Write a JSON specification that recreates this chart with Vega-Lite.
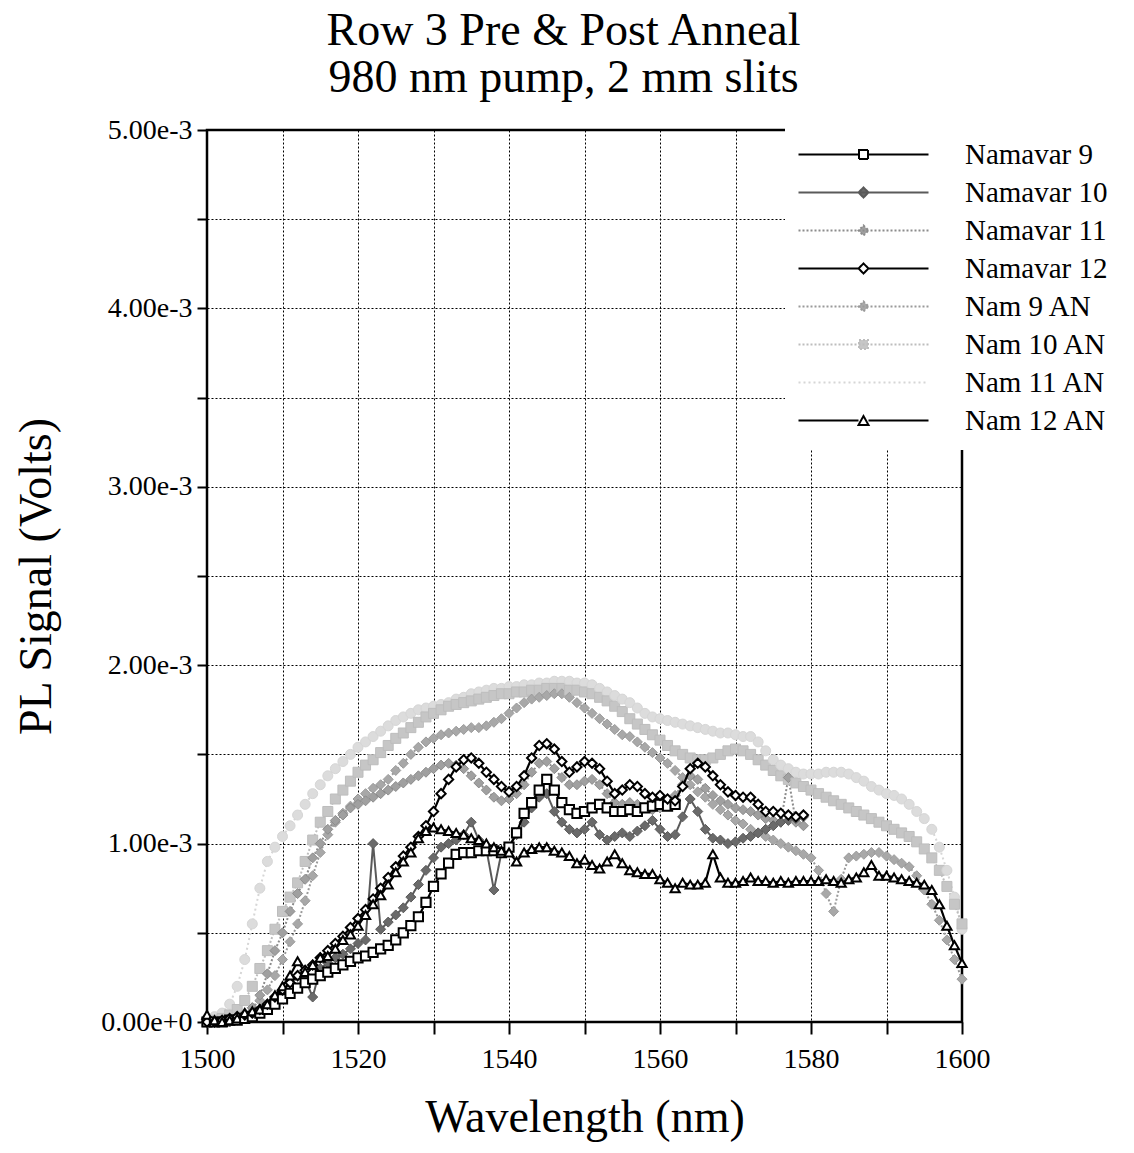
{
"$schema": "https://vega.github.io/schema/vega-lite/v6.json",
"width": 755, "height": 892,
"autosize": {"type": "none"},
"padding": {"left": 207, "top": 130, "right": 172, "bottom": 131},
"background": "white",
"config": {"view": {"stroke": "black", "strokeWidth": 2.5}, "font": "Liberation Serif"},
"title": {"text": ["Row 3 Pre & Post Anneal", "980 nm pump, 2 mm slits"], "font": "Liberation Serif", "fontSize": 46, "fontWeight": "normal", "color": "black", "lineHeight": 47, "anchor": "middle", "dx": -21, "offset": 14},
"data": {"values": [
{"w":1500,"Namavar 9":0,"Namavar 10":0,"Namavar 11":0,"Namavar 12":0,"Nam 9 AN":0,"Nam 10 AN":0,"Nam 11 AN":0.00002,"Nam 12 AN":0.00004},
{"w":1501,"Namavar 9":0,"Namavar 10":0,"Namavar 11":0,"Namavar 12":0,"Nam 9 AN":0,"Nam 10 AN":0.00001,"Nam 11 AN":0.00003,"Nam 12 AN":0.00001},
{"w":1502,"Namavar 9":0,"Namavar 10":0,"Namavar 11":0,"Namavar 12":0.00001,"Nam 9 AN":0.00001,"Nam 10 AN":0.00002,"Nam 11 AN":0.00005,"Nam 12 AN":0},
{"w":1503,"Namavar 9":0.00001,"Namavar 10":0,"Namavar 11":0.00001,"Namavar 12":0.00002,"Nam 9 AN":0.00002,"Nam 10 AN":0.00004,"Nam 11 AN":0.0001,"Nam 12 AN":0.00001},
{"w":1504,"Namavar 9":0.00001,"Namavar 10":0.00001,"Namavar 11":0.00002,"Namavar 12":0.00003,"Nam 9 AN":0.00003,"Nam 10 AN":0.00007,"Nam 11 AN":0.0002,"Nam 12 AN":0.00002},
{"w":1505,"Namavar 9":0.00002,"Namavar 10":0.00002,"Namavar 11":0.00004,"Namavar 12":0.00004,"Nam 9 AN":0.00005,"Nam 10 AN":0.00012,"Nam 11 AN":0.00035,"Nam 12 AN":0.00005},
{"w":1506,"Namavar 9":0.00003,"Namavar 10":0.00003,"Namavar 11":0.00008,"Namavar 12":0.00005,"Nam 9 AN":0.00008,"Nam 10 AN":0.0002,"Nam 11 AN":0.00055,"Nam 12 AN":0.00006},
{"w":1507,"Namavar 9":0.00005,"Namavar 10":0.00005,"Namavar 11":0.00015,"Namavar 12":0.00007,"Nam 9 AN":0.00012,"Nam 10 AN":0.0003,"Nam 11 AN":0.00075,"Nam 12 AN":0.00007},
{"w":1508,"Namavar 9":0.00007,"Namavar 10":0.00008,"Namavar 11":0.00027,"Namavar 12":0.0001,"Nam 9 AN":0.00018,"Nam 10 AN":0.0004,"Nam 11 AN":0.0009,"Nam 12 AN":0.0001},
{"w":1509,"Namavar 9":0.0001,"Namavar 10":0.00012,"Namavar 11":0.0004,"Namavar 12":0.00014,"Nam 9 AN":0.00026,"Nam 10 AN":0.00052,"Nam 11 AN":0.00098,"Nam 12 AN":0.00015},
{"w":1510,"Namavar 9":0.00013,"Namavar 10":0.00017,"Namavar 11":0.0005,"Namavar 12":0.00018,"Nam 9 AN":0.00035,"Nam 10 AN":0.00062,"Nam 11 AN":0.00104,"Nam 12 AN":0.0002},
{"w":1511,"Namavar 9":0.00016,"Namavar 10":0.00022,"Namavar 11":0.00062,"Namavar 12":0.00022,"Nam 9 AN":0.00045,"Nam 10 AN":0.0007,"Nam 11 AN":0.0011,"Nam 12 AN":0.00026},
{"w":1512,"Namavar 9":0.00019,"Namavar 10":0.00026,"Namavar 11":0.00072,"Namavar 12":0.00026,"Nam 9 AN":0.00055,"Nam 10 AN":0.00078,"Nam 11 AN":0.00116,"Nam 12 AN":0.00034},
{"w":1513,"Namavar 9":0.00022,"Namavar 10":0.00024,"Namavar 11":0.0008,"Namavar 12":0.00029,"Nam 9 AN":0.00068,"Nam 10 AN":0.0009,"Nam 11 AN":0.00122,"Nam 12 AN":0.00028},
{"w":1514,"Namavar 9":0.00024,"Namavar 10":0.00014,"Namavar 11":0.00092,"Namavar 12":0.00032,"Nam 9 AN":0.00082,"Nam 10 AN":0.00102,"Nam 11 AN":0.00128,"Nam 12 AN":0.00032},
{"w":1515,"Namavar 9":0.00026,"Namavar 10":0.0003,"Namavar 11":0.001,"Namavar 12":0.00036,"Nam 9 AN":0.00095,"Nam 10 AN":0.00112,"Nam 11 AN":0.00133,"Nam 12 AN":0.00036},
{"w":1516,"Namavar 9":0.00028,"Namavar 10":0.00033,"Namavar 11":0.00108,"Namavar 12":0.0004,"Nam 9 AN":0.00105,"Nam 10 AN":0.00118,"Nam 11 AN":0.00138,"Nam 12 AN":0.00037},
{"w":1517,"Namavar 9":0.0003,"Namavar 10":0.00036,"Namavar 11":0.00113,"Namavar 12":0.00044,"Nam 9 AN":0.00112,"Nam 10 AN":0.00125,"Nam 11 AN":0.00142,"Nam 12 AN":0.00041},
{"w":1518,"Namavar 9":0.00032,"Namavar 10":0.00038,"Namavar 11":0.00116,"Namavar 12":0.00048,"Nam 9 AN":0.00117,"Nam 10 AN":0.0013,"Nam 11 AN":0.00146,"Nam 12 AN":0.00046},
{"w":1519,"Namavar 9":0.00034,"Namavar 10":0.00041,"Namavar 11":0.0012,"Namavar 12":0.00053,"Nam 9 AN":0.00121,"Nam 10 AN":0.00135,"Nam 11 AN":0.0015,"Nam 12 AN":0.00049},
{"w":1520,"Namavar 9":0.00036,"Namavar 10":0.00044,"Namavar 11":0.00122,"Namavar 12":0.00058,"Nam 9 AN":0.00125,"Nam 10 AN":0.0014,"Nam 11 AN":0.00154,"Nam 12 AN":0.00054},
{"w":1521,"Namavar 9":0.00037,"Namavar 10":0.00046,"Namavar 11":0.00124,"Namavar 12":0.00063,"Nam 9 AN":0.00128,"Nam 10 AN":0.00144,"Nam 11 AN":0.00157,"Nam 12 AN":0.0006},
{"w":1522,"Namavar 9":0.00039,"Namavar 10":0.001,"Namavar 11":0.00126,"Namavar 12":0.00069,"Nam 9 AN":0.00131,"Nam 10 AN":0.00147,"Nam 11 AN":0.0016,"Nam 12 AN":0.00066},
{"w":1523,"Namavar 9":0.00041,"Namavar 10":0.00052,"Namavar 11":0.00128,"Namavar 12":0.00075,"Nam 9 AN":0.00133,"Nam 10 AN":0.00151,"Nam 11 AN":0.00163,"Nam 12 AN":0.00071},
{"w":1524,"Namavar 9":0.00043,"Namavar 10":0.00056,"Namavar 11":0.0013,"Namavar 12":0.00081,"Nam 9 AN":0.00136,"Nam 10 AN":0.00155,"Nam 11 AN":0.00166,"Nam 12 AN":0.00077},
{"w":1525,"Namavar 9":0.00046,"Namavar 10":0.0006,"Namavar 11":0.00132,"Namavar 12":0.00087,"Nam 9 AN":0.00141,"Nam 10 AN":0.00159,"Nam 11 AN":0.00169,"Nam 12 AN":0.00084},
{"w":1526,"Namavar 9":0.0005,"Namavar 10":0.00064,"Namavar 11":0.00134,"Namavar 12":0.00093,"Nam 9 AN":0.00145,"Nam 10 AN":0.00162,"Nam 11 AN":0.00171,"Nam 12 AN":0.0009},
{"w":1527,"Namavar 9":0.00054,"Namavar 10":0.0007,"Namavar 11":0.00136,"Namavar 12":0.00098,"Nam 9 AN":0.0015,"Nam 10 AN":0.00165,"Nam 11 AN":0.00173,"Nam 12 AN":0.00095},
{"w":1528,"Namavar 9":0.00059,"Namavar 10":0.00077,"Namavar 11":0.00138,"Namavar 12":0.00104,"Nam 9 AN":0.00154,"Nam 10 AN":0.00168,"Nam 11 AN":0.00175,"Nam 12 AN":0.00103},
{"w":1529,"Namavar 9":0.00067,"Namavar 10":0.00085,"Namavar 11":0.0014,"Namavar 12":0.0011,"Nam 9 AN":0.00157,"Nam 10 AN":0.00171,"Nam 11 AN":0.00176,"Nam 12 AN":0.00107},
{"w":1530,"Namavar 9":0.00076,"Namavar 10":0.00092,"Namavar 11":0.00142,"Namavar 12":0.00118,"Nam 9 AN":0.00159,"Nam 10 AN":0.00173,"Nam 11 AN":0.00177,"Nam 12 AN":0.00109},
{"w":1531,"Namavar 9":0.00083,"Namavar 10":0.00098,"Namavar 11":0.00144,"Namavar 12":0.00128,"Nam 9 AN":0.00161,"Nam 10 AN":0.00175,"Nam 11 AN":0.00178,"Nam 12 AN":0.00108},
{"w":1532,"Namavar 9":0.00089,"Namavar 10":0.001,"Namavar 11":0.00145,"Namavar 12":0.00136,"Nam 9 AN":0.00162,"Nam 10 AN":0.00177,"Nam 11 AN":0.00179,"Nam 12 AN":0.00107},
{"w":1533,"Namavar 9":0.00094,"Namavar 10":0.00102,"Namavar 11":0.00144,"Namavar 12":0.00143,"Nam 9 AN":0.00163,"Nam 10 AN":0.00178,"Nam 11 AN":0.00181,"Nam 12 AN":0.00106},
{"w":1534,"Namavar 9":0.00095,"Namavar 10":0.00105,"Namavar 11":0.00142,"Namavar 12":0.00147,"Nam 9 AN":0.00164,"Nam 10 AN":0.00179,"Nam 11 AN":0.00182,"Nam 12 AN":0.00105},
{"w":1535,"Namavar 9":0.00095,"Namavar 10":0.00112,"Namavar 11":0.00138,"Namavar 12":0.00148,"Nam 9 AN":0.00165,"Nam 10 AN":0.0018,"Nam 11 AN":0.00184,"Nam 12 AN":0.00103},
{"w":1536,"Namavar 9":0.00096,"Namavar 10":0.00102,"Namavar 11":0.00134,"Namavar 12":0.00145,"Nam 9 AN":0.00165,"Nam 10 AN":0.00181,"Nam 11 AN":0.00185,"Nam 12 AN":0.00102},
{"w":1537,"Namavar 9":0.00096,"Namavar 10":0.00097,"Namavar 11":0.0013,"Namavar 12":0.0014,"Nam 9 AN":0.00166,"Nam 10 AN":0.00182,"Nam 11 AN":0.00186,"Nam 12 AN":0.001},
{"w":1538,"Namavar 9":0.00096,"Namavar 10":0.00074,"Namavar 11":0.00126,"Namavar 12":0.00136,"Nam 9 AN":0.00168,"Nam 10 AN":0.00183,"Nam 11 AN":0.00187,"Nam 12 AN":0.00098},
{"w":1539,"Namavar 9":0.00095,"Namavar 10":0.00095,"Namavar 11":0.00124,"Namavar 12":0.00132,"Nam 9 AN":0.0017,"Nam 10 AN":0.00184,"Nam 11 AN":0.00187,"Nam 12 AN":0.00096},
{"w":1540,"Namavar 9":0.00098,"Namavar 10":0.00098,"Namavar 11":0.00125,"Namavar 12":0.00129,"Nam 9 AN":0.00173,"Nam 10 AN":0.00184,"Nam 11 AN":0.00188,"Nam 12 AN":0.00095},
{"w":1541,"Namavar 9":0.00106,"Namavar 10":0.00105,"Namavar 11":0.00128,"Namavar 12":0.00132,"Nam 9 AN":0.00176,"Nam 10 AN":0.00185,"Nam 11 AN":0.00188,"Nam 12 AN":0.0009},
{"w":1542,"Namavar 9":0.00117,"Namavar 10":0.00112,"Namavar 11":0.00133,"Namavar 12":0.00138,"Nam 9 AN":0.00179,"Nam 10 AN":0.00185,"Nam 11 AN":0.00189,"Nam 12 AN":0.00095},
{"w":1543,"Namavar 9":0.00123,"Namavar 10":0.0012,"Namavar 11":0.0014,"Namavar 12":0.00148,"Nam 9 AN":0.00181,"Nam 10 AN":0.00186,"Nam 11 AN":0.00189,"Nam 12 AN":0.00097},
{"w":1544,"Namavar 9":0.0013,"Namavar 10":0.00126,"Namavar 11":0.00145,"Namavar 12":0.00155,"Nam 9 AN":0.00182,"Nam 10 AN":0.00186,"Nam 11 AN":0.0019,"Nam 12 AN":0.00098},
{"w":1545,"Namavar 9":0.00136,"Namavar 10":0.00128,"Namavar 11":0.00146,"Namavar 12":0.00156,"Nam 9 AN":0.00183,"Nam 10 AN":0.00187,"Nam 11 AN":0.0019,"Nam 12 AN":0.00098},
{"w":1546,"Namavar 9":0.0013,"Namavar 10":0.00118,"Namavar 11":0.00142,"Namavar 12":0.00153,"Nam 9 AN":0.00184,"Nam 10 AN":0.00187,"Nam 11 AN":0.00191,"Nam 12 AN":0.00096},
{"w":1547,"Namavar 9":0.00123,"Namavar 10":0.00112,"Namavar 11":0.00137,"Namavar 12":0.00146,"Nam 9 AN":0.00184,"Nam 10 AN":0.00187,"Nam 11 AN":0.00191,"Nam 12 AN":0.00095},
{"w":1548,"Namavar 9":0.00119,"Namavar 10":0.00108,"Namavar 11":0.00133,"Namavar 12":0.0014,"Nam 9 AN":0.00182,"Nam 10 AN":0.00186,"Nam 11 AN":0.00191,"Nam 12 AN":0.00093},
{"w":1549,"Namavar 9":0.00117,"Namavar 10":0.00106,"Namavar 11":0.00133,"Namavar 12":0.00143,"Nam 9 AN":0.00179,"Nam 10 AN":0.00186,"Nam 11 AN":0.0019,"Nam 12 AN":0.00089},
{"w":1550,"Namavar 9":0.00118,"Namavar 10":0.00108,"Namavar 11":0.00135,"Namavar 12":0.00146,"Nam 9 AN":0.00176,"Nam 10 AN":0.00185,"Nam 11 AN":0.0019,"Nam 12 AN":0.00091},
{"w":1551,"Namavar 9":0.0012,"Namavar 10":0.00112,"Namavar 11":0.00136,"Namavar 12":0.00145,"Nam 9 AN":0.00173,"Nam 10 AN":0.00184,"Nam 11 AN":0.00189,"Nam 12 AN":0.00088},
{"w":1552,"Namavar 9":0.00122,"Namavar 10":0.00105,"Namavar 11":0.00133,"Namavar 12":0.00142,"Nam 9 AN":0.0017,"Nam 10 AN":0.00182,"Nam 11 AN":0.00187,"Nam 12 AN":0.00086},
{"w":1553,"Namavar 9":0.0012,"Namavar 10":0.00102,"Namavar 11":0.00128,"Namavar 12":0.00135,"Nam 9 AN":0.00167,"Nam 10 AN":0.0018,"Nam 11 AN":0.00185,"Nam 12 AN":0.0009},
{"w":1554,"Namavar 9":0.00118,"Namavar 10":0.00104,"Namavar 11":0.00123,"Namavar 12":0.00128,"Nam 9 AN":0.00164,"Nam 10 AN":0.00177,"Nam 11 AN":0.00183,"Nam 12 AN":0.00094},
{"w":1555,"Namavar 9":0.00118,"Namavar 10":0.00106,"Namavar 11":0.00122,"Namavar 12":0.0013,"Nam 9 AN":0.00161,"Nam 10 AN":0.00174,"Nam 11 AN":0.00181,"Nam 12 AN":0.00089},
{"w":1556,"Namavar 9":0.00119,"Namavar 10":0.00104,"Namavar 11":0.00123,"Namavar 12":0.00133,"Nam 9 AN":0.0016,"Nam 10 AN":0.0017,"Nam 11 AN":0.00179,"Nam 12 AN":0.00085},
{"w":1557,"Namavar 9":0.00118,"Namavar 10":0.00107,"Namavar 11":0.00122,"Namavar 12":0.00132,"Nam 9 AN":0.00157,"Nam 10 AN":0.00167,"Nam 11 AN":0.00176,"Nam 12 AN":0.00084},
{"w":1558,"Namavar 9":0.0012,"Namavar 10":0.0011,"Namavar 11":0.0012,"Namavar 12":0.00128,"Nam 9 AN":0.00154,"Nam 10 AN":0.00164,"Nam 11 AN":0.00173,"Nam 12 AN":0.00083},
{"w":1559,"Namavar 9":0.00121,"Namavar 10":0.00113,"Namavar 11":0.00119,"Namavar 12":0.00126,"Nam 9 AN":0.00151,"Nam 10 AN":0.00161,"Nam 11 AN":0.00171,"Nam 12 AN":0.00083},
{"w":1560,"Namavar 9":0.00122,"Namavar 10":0.00108,"Namavar 11":0.0012,"Namavar 12":0.00127,"Nam 9 AN":0.00148,"Nam 10 AN":0.00158,"Nam 11 AN":0.0017,"Nam 12 AN":0.0008},
{"w":1561,"Namavar 9":0.00121,"Namavar 10":0.00104,"Namavar 11":0.00122,"Namavar 12":0.00125,"Nam 9 AN":0.00145,"Nam 10 AN":0.00155,"Nam 11 AN":0.00169,"Nam 12 AN":0.00078},
{"w":1562,"Namavar 9":0.00122,"Namavar 10":0.00105,"Namavar 11":0.00127,"Namavar 12":0.00124,"Nam 9 AN":0.00141,"Nam 10 AN":0.00152,"Nam 11 AN":0.00168,"Nam 12 AN":0.00075},
{"w":1563,"Namavar 10":0.00115,"Namavar 11":0.00133,"Namavar 12":0.00132,"Nam 9 AN":0.00137,"Nam 10 AN":0.0015,"Nam 11 AN":0.00167,"Nam 12 AN":0.00078},
{"w":1564,"Namavar 10":0.00125,"Namavar 11":0.00138,"Namavar 12":0.00142,"Nam 9 AN":0.00133,"Nam 10 AN":0.00148,"Nam 11 AN":0.00166,"Nam 12 AN":0.00077},
{"w":1565,"Namavar 10":0.00118,"Namavar 11":0.00136,"Namavar 12":0.00145,"Nam 9 AN":0.00129,"Nam 10 AN":0.00147,"Nam 11 AN":0.00165,"Nam 12 AN":0.00077},
{"w":1566,"Namavar 10":0.00108,"Namavar 11":0.00131,"Namavar 12":0.00143,"Nam 9 AN":0.00126,"Nam 10 AN":0.00147,"Nam 11 AN":0.00164,"Nam 12 AN":0.00078},
{"w":1567,"Namavar 10":0.00103,"Namavar 11":0.00127,"Namavar 12":0.00138,"Nam 9 AN":0.00122,"Nam 10 AN":0.00148,"Nam 11 AN":0.00163,"Nam 12 AN":0.00094},
{"w":1568,"Namavar 10":0.00102,"Namavar 11":0.00124,"Namavar 12":0.00133,"Nam 9 AN":0.00119,"Nam 10 AN":0.0015,"Nam 11 AN":0.00162,"Nam 12 AN":0.00081},
{"w":1569,"Namavar 10":0.001,"Namavar 11":0.00122,"Namavar 12":0.00129,"Nam 9 AN":0.00116,"Nam 10 AN":0.00152,"Nam 11 AN":0.00162,"Nam 12 AN":0.00078},
{"w":1570,"Namavar 10":0.00101,"Namavar 11":0.0012,"Namavar 12":0.00127,"Nam 9 AN":0.00113,"Nam 10 AN":0.00153,"Nam 11 AN":0.00161,"Nam 12 AN":0.00078},
{"w":1571,"Namavar 10":0.00103,"Namavar 11":0.00119,"Namavar 12":0.00126,"Nam 9 AN":0.00111,"Nam 10 AN":0.00152,"Nam 11 AN":0.0016,"Nam 12 AN":0.00079},
{"w":1572,"Namavar 10":0.00104,"Namavar 11":0.00118,"Namavar 12":0.00126,"Nam 9 AN":0.00108,"Nam 10 AN":0.0015,"Nam 11 AN":0.0016,"Nam 12 AN":0.00081},
{"w":1573,"Namavar 10":0.00106,"Namavar 11":0.00116,"Namavar 12":0.00122,"Nam 9 AN":0.00106,"Nam 10 AN":0.00147,"Nam 11 AN":0.00157,"Nam 12 AN":0.00079},
{"w":1574,"Namavar 10":0.00108,"Namavar 11":0.00114,"Namavar 12":0.00118,"Nam 9 AN":0.00104,"Nam 10 AN":0.00144,"Nam 11 AN":0.00152,"Nam 12 AN":0.00079},
{"w":1575,"Namavar 10":0.0011,"Namavar 11":0.00113,"Namavar 12":0.00118,"Nam 9 AN":0.00102,"Nam 10 AN":0.00141,"Nam 11 AN":0.00147,"Nam 12 AN":0.00078},
{"w":1576,"Namavar 10":0.00112,"Namavar 11":0.00112,"Namavar 12":0.00117,"Nam 9 AN":0.001,"Nam 10 AN":0.00138,"Nam 11 AN":0.00144,"Nam 12 AN":0.00079},
{"w":1577,"Namavar 10":0.00113,"Namavar 11":0.00137,"Namavar 12":0.00116,"Nam 9 AN":0.00098,"Nam 10 AN":0.00136,"Nam 11 AN":0.00142,"Nam 12 AN":0.00078},
{"w":1578,"Namavar 10":0.00114,"Namavar 11":0.00112,"Namavar 12":0.00115,"Nam 9 AN":0.00096,"Nam 10 AN":0.00134,"Nam 11 AN":0.0014,"Nam 12 AN":0.00079},
{"w":1579,"Namavar 10":0.00115,"Namavar 11":0.0011,"Namavar 12":0.00116,"Nam 9 AN":0.00094,"Nam 10 AN":0.00132,"Nam 11 AN":0.00139,"Nam 12 AN":0.00079},
{"w":1580,"Nam 9 AN":0.00092,"Nam 10 AN":0.0013,"Nam 11 AN":0.00139,"Nam 12 AN":0.00079},
{"w":1581,"Nam 9 AN":0.00085,"Nam 10 AN":0.00128,"Nam 11 AN":0.00139,"Nam 12 AN":0.00079},
{"w":1582,"Nam 9 AN":0.00072,"Nam 10 AN":0.00126,"Nam 11 AN":0.0014,"Nam 12 AN":0.0008},
{"w":1583,"Nam 9 AN":0.00062,"Nam 10 AN":0.00124,"Nam 11 AN":0.0014,"Nam 12 AN":0.00079},
{"w":1584,"Nam 9 AN":0.0008,"Nam 10 AN":0.00122,"Nam 11 AN":0.0014,"Nam 12 AN":0.00078},
{"w":1585,"Nam 9 AN":0.00092,"Nam 10 AN":0.0012,"Nam 11 AN":0.00139,"Nam 12 AN":0.0008},
{"w":1586,"Nam 9 AN":0.00093,"Nam 10 AN":0.00118,"Nam 11 AN":0.00137,"Nam 12 AN":0.00081},
{"w":1587,"Nam 9 AN":0.00094,"Nam 10 AN":0.00116,"Nam 11 AN":0.00135,"Nam 12 AN":0.00084},
{"w":1588,"Nam 9 AN":0.00095,"Nam 10 AN":0.00114,"Nam 11 AN":0.00132,"Nam 12 AN":0.00088},
{"w":1589,"Nam 9 AN":0.00095,"Nam 10 AN":0.00112,"Nam 11 AN":0.0013,"Nam 12 AN":0.00082},
{"w":1590,"Nam 9 AN":0.00093,"Nam 10 AN":0.0011,"Nam 11 AN":0.00128,"Nam 12 AN":0.00082},
{"w":1591,"Nam 9 AN":0.00091,"Nam 10 AN":0.00108,"Nam 11 AN":0.00127,"Nam 12 AN":0.00081},
{"w":1592,"Nam 9 AN":0.00089,"Nam 10 AN":0.00106,"Nam 11 AN":0.00125,"Nam 12 AN":0.0008},
{"w":1593,"Nam 9 AN":0.00087,"Nam 10 AN":0.00104,"Nam 11 AN":0.00122,"Nam 12 AN":0.00079},
{"w":1594,"Nam 9 AN":0.00082,"Nam 10 AN":0.00101,"Nam 11 AN":0.00118,"Nam 12 AN":0.00078},
{"w":1595,"Nam 9 AN":0.00074,"Nam 10 AN":0.00097,"Nam 11 AN":0.00114,"Nam 12 AN":0.00077},
{"w":1596,"Nam 9 AN":0.00066,"Nam 10 AN":0.00092,"Nam 11 AN":0.00108,"Nam 12 AN":0.00074},
{"w":1597,"Nam 9 AN":0.00057,"Nam 10 AN":0.00085,"Nam 11 AN":0.00098,"Nam 12 AN":0.00066},
{"w":1598,"Nam 9 AN":0.00046,"Nam 10 AN":0.00076,"Nam 11 AN":0.00085,"Nam 12 AN":0.00054},
{"w":1599,"Nam 9 AN":0.00035,"Nam 10 AN":0.00066,"Nam 11 AN":0.0007,"Nam 12 AN":0.00043},
{"w":1600,"Nam 9 AN":0.00024,"Nam 10 AN":0.00055,"Nam 11 AN":0.00052,"Nam 12 AN":0.00033}
]},
"transform": [
{"fold": ["Nam 11 AN","Nam 10 AN","Nam 9 AN","Namavar 11","Namavar 10","Namavar 9","Namavar 12","Nam 12 AN"], "as": ["series","v"]},
{"filter": "isValid(datum.v)"}
],
"encoding": {
"x": {"field": "w", "type": "quantitative", "scale": {"domain": [1500,1600], "nice": false, "zero": false},
 "axis": {"values": [1500,1510,1520,1530,1540,1550,1560,1570,1580,1590,1600], "format": "d", "labelExpr": "datum.value % 20 == 0 ? datum.label : ''",
  "grid": true, "gridColor": "black", "gridDash": [2,2], "gridWidth": 1, "gridOpacity": 1, "domain": false,
  "ticks": true, "tickColor": "black", "tickSize": 12, "tickWidth": 2, "labelFlush": false, "labelOverlap": false,
  "labelFont": "Liberation Serif", "labelFontSize": 28, "labelColor": "black", "labelPadding": 11,
  "title": "Wavelength (nm)", "titleFont": "Liberation Serif", "titleFontSize": 46, "titleFontWeight": "normal", "titleColor": "black", "titlePadding": 22}},
"y": {"field": "v", "type": "quantitative", "scale": {"domain": [0,0.005], "nice": false},
 "axis": {"values": [0,0.0005,0.001,0.0015,0.002,0.0025,0.003,0.0035,0.004,0.0045,0.005], "labelExpr": "round(datum.value*2000) % 2 == 0 ? format(datum.value, '.2e') : ''",
  "grid": true, "gridColor": "black", "gridDash": [2,2], "gridWidth": 1, "gridOpacity": 1, "domain": false,
  "ticks": true, "tickColor": "black", "tickSize": 10, "tickWidth": 2, "labelFlush": false, "labelOverlap": false,
  "labelFont": "Liberation Serif", "labelFontSize": 28, "labelColor": "black", "labelPadding": 5,
  "title": "PL Signal (Volts)", "titleFont": "Liberation Serif", "titleFontSize": 46, "titleFontWeight": "normal", "titleColor": "black", "titlePadding": 40}}
},
"resolve": {"scale": {"shape": "independent", "fill": "independent", "stroke": "independent", "strokeDash": "independent"}},
"layer": [
{"transform": [{"filter": {"field": "series", "oneOf": ["Nam 11 AN","Nam 10 AN","Nam 9 AN","Namavar 11","Namavar 10"]}}],
 "mark": {"type": "line", "strokeWidth": 2},
 "encoding": {
  "color": {"field": "series", "type": "nominal", "legend": null,
   "scale": {"domain": ["Namavar 9","Namavar 10","Namavar 11","Namavar 12","Nam 9 AN","Nam 10 AN","Nam 11 AN","Nam 12 AN"], "range": ["#000000","#5a5a5a","#8c8c8c","#000000","#9a9a9a","#bdbdbd","#d6d6d6","#000000"]}},
  "strokeDash": {"field": "series", "type": "nominal", "legend": null,
   "scale": {"domain": ["Namavar 9","Namavar 10","Namavar 11","Namavar 12","Nam 9 AN","Nam 10 AN","Nam 11 AN","Nam 12 AN"], "range": [[1,0],[1,0],[2,2],[1,0],[2,2],[2,2],[2,3],[1,0]]}}
 }},
{"transform": [{"filter": {"field": "series", "oneOf": ["Nam 11 AN","Nam 10 AN","Nam 9 AN","Namavar 11","Namavar 10"]}}],
 "mark": {"type": "point", "size": 100, "strokeWidth": 1, "opacity": 1},
 "encoding": {
  "shape": {"field": "series", "type": "nominal", "legend": null,
   "scale": {"domain": ["Namavar 9","Namavar 10","Namavar 11","Namavar 12","Nam 9 AN","Nam 10 AN","Nam 11 AN","Nam 12 AN"], "range": ["square","diamond","diamond","diamond","diamond","square","circle","triangle-up"]}},
  "fill": {"field": "series", "type": "nominal", "legend": null,
   "scale": {"domain": ["Namavar 9","Namavar 10","Namavar 11","Namavar 12","Nam 9 AN","Nam 10 AN","Nam 11 AN","Nam 12 AN"], "range": ["white","#6a6a6a","#a0a0a0","white","#a8a8a8","#c6c6c6","#dcdcdc","white"]}},
  "stroke": {"field": "series", "type": "nominal", "legend": null,
   "scale": {"domain": ["Namavar 9","Namavar 10","Namavar 11","Namavar 12","Nam 9 AN","Nam 10 AN","Nam 11 AN","Nam 12 AN"], "range": ["#000000","#5a5a5a","#8c8c8c","#000000","#9a9a9a","#bdbdbd","#d6d6d6","#000000"]}}
 }},
{"transform": [{"filter": {"field": "series", "oneOf": ["Namavar 9","Namavar 12","Nam 12 AN"]}}],
 "mark": {"type": "line", "strokeWidth": 2.2},
 "encoding": {
  "color": {"field": "series", "type": "nominal", "legend": null},
  "strokeDash": {"field": "series", "type": "nominal", "legend": null,
   "scale": {"domain": ["Namavar 9","Namavar 10","Namavar 11","Namavar 12","Nam 9 AN","Nam 10 AN","Nam 11 AN","Nam 12 AN"], "range": [[1,0],[1,0],[2,2],[1,0],[2,2],[2,2],[2,3],[1,0]]}}
 }},
{"transform": [{"filter": {"field": "series", "oneOf": ["Namavar 9","Namavar 12","Nam 12 AN"]}}],
 "mark": {"type": "point", "size": 85, "strokeWidth": 2, "opacity": 1},
 "encoding": {
  "shape": {"field": "series", "type": "nominal", "legend": null,
   "scale": {"domain": ["Namavar 9","Namavar 10","Namavar 11","Namavar 12","Nam 9 AN","Nam 10 AN","Nam 11 AN","Nam 12 AN"], "range": ["square","diamond","diamond","diamond","diamond","square","circle","triangle-up"]}},
  "fill": {"field": "series", "type": "nominal", "legend": null,
   "scale": {"domain": ["Namavar 9","Namavar 10","Namavar 11","Namavar 12","Nam 9 AN","Nam 10 AN","Nam 11 AN","Nam 12 AN"], "range": ["white","#6a6a6a","#a0a0a0","white","#a8a8a8","#c6c6c6","#dcdcdc","white"]}},
  "stroke": {"field": "series", "type": "nominal", "legend": null,
   "scale": {"domain": ["Namavar 9","Namavar 10","Namavar 11","Namavar 12","Nam 9 AN","Nam 10 AN","Nam 11 AN","Nam 12 AN"], "range": ["#000000","#5a5a5a","#8c8c8c","#000000","#9a9a9a","#bdbdbd","#d6d6d6","#000000"]}}
 }},
{"transform": [{"filter": "false"}],
 "mark": {"type": "point", "size": 400, "strokeWidth": 2, "opacity": 1},
 "encoding": {
  "shape": {"field": "series", "type": "nominal",
   "scale": {"domain": ["Namavar 9","Namavar 10","Namavar 11","Namavar 12","Nam 9 AN","Nam 10 AN","Nam 11 AN","Nam 12 AN"],
    "range": ["M-1.5,0H4.55M5.45,0H11.5M4.55,-0.45H5.45V0.45H4.55Z","M-1.5,0H11.5M5,-0.5L5.5,0L5,0.5L4.5,0Z","M-1.5,0H11.5M5,-0.5L5.5,0L5,0.5L4.5,0Z","M-1.5,0H4.5M5.5,0H11.5M5,-0.5L5.5,0L5,0.5L4.5,0Z","M-1.5,0H11.5M5,-0.5L5.5,0L5,0.5L4.5,0Z","M-1.5,0H11.5M4.55,-0.45H5.45V0.45H4.55Z","M-1.5,0H11.5","M-1.5,0H4.5M5.5,0H11.5M5,-0.45L5.5,0.45L4.5,0.45Z"]},
   "legend": {"title": null, "orient": "none", "legendX": 578, "legendY": -4, "fillColor": "white", "padding": 14,
    "labelFont": "Liberation Serif", "labelFontSize": 29, "labelColor": "black", "labelOffset": 137, "labelLimit": 300,
    "symbolSize": 400, "symbolStrokeWidth": 2, "rowPadding": 8, "zindex": 1}},
  "fill": {"field": "series", "type": "nominal",
   "scale": {"domain": ["Namavar 9","Namavar 10","Namavar 11","Namavar 12","Nam 9 AN","Nam 10 AN","Nam 11 AN","Nam 12 AN"], "range": ["white","#6a6a6a","#a0a0a0","white","#a8a8a8","#c6c6c6","#dcdcdc","white"]},
   "legend": {"title": null, "orient": "none", "legendX": 578, "legendY": -4, "fillColor": "white", "padding": 14,
    "labelFont": "Liberation Serif", "labelFontSize": 29, "labelColor": "black", "labelOffset": 137, "labelLimit": 300,
    "symbolSize": 400, "symbolStrokeWidth": 2, "rowPadding": 8, "zindex": 1}},
  "stroke": {"field": "series", "type": "nominal",
   "scale": {"domain": ["Namavar 9","Namavar 10","Namavar 11","Namavar 12","Nam 9 AN","Nam 10 AN","Nam 11 AN","Nam 12 AN"], "range": ["#000000","#5a5a5a","#8c8c8c","#000000","#9a9a9a","#bdbdbd","#d6d6d6","#000000"]},
   "legend": {"title": null, "orient": "none", "legendX": 578, "legendY": -4, "fillColor": "white", "padding": 14,
    "labelFont": "Liberation Serif", "labelFontSize": 29, "labelColor": "black", "labelOffset": 137, "labelLimit": 300,
    "symbolSize": 400, "symbolStrokeWidth": 2, "rowPadding": 8, "zindex": 1}},
  "strokeDash": {"field": "series", "type": "nominal",
   "scale": {"domain": ["Namavar 9","Namavar 10","Namavar 11","Namavar 12","Nam 9 AN","Nam 10 AN","Nam 11 AN","Nam 12 AN"], "range": [[1,0],[1,0],[2,2],[1,0],[2,2],[2,2],[2,3],[1,0]]},
   "legend": {"title": null, "orient": "none", "legendX": 578, "legendY": -4, "fillColor": "white", "padding": 14,
    "labelFont": "Liberation Serif", "labelFontSize": 29, "labelColor": "black", "labelOffset": 137, "labelLimit": 300,
    "symbolSize": 400, "symbolStrokeWidth": 2, "rowPadding": 8, "zindex": 1}}
 }}
]
}
